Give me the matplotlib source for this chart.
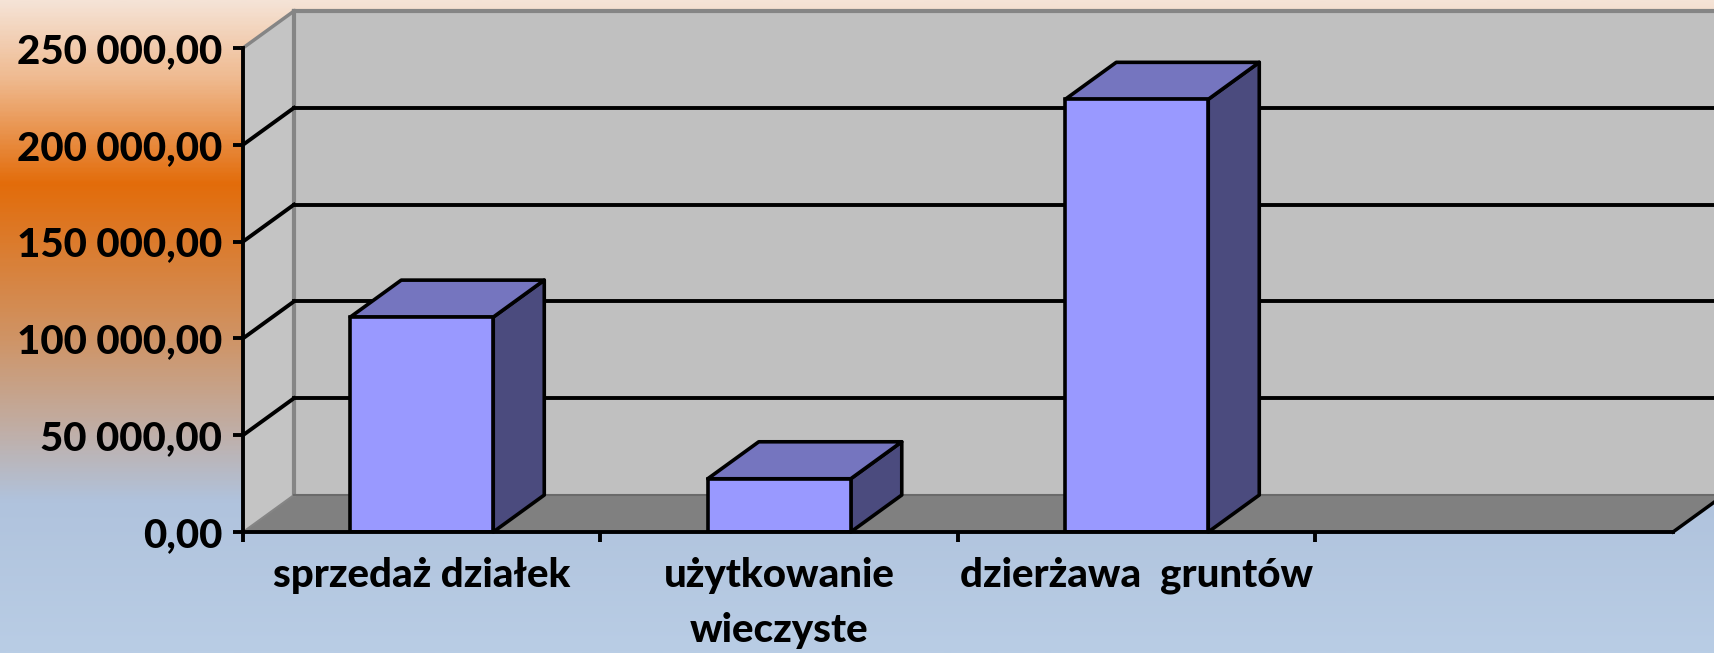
import numpy as np
import matplotlib
matplotlib.use("Agg")
import matplotlib.pyplot as plt
from matplotlib.patches import Polygon
from matplotlib.colors import LinearSegmentedColormap
from matplotlib.ticker import FuncFormatter

plt.rcParams['font.family'] = ['Lato', 'DejaVu Sans']
plt.rcParams['font.weight'] = 'black'

kategorie = ["sprzedaż działek", "użytkowanie\nwieczyste", "dzierżawa  gruntów"]
wartosci = [111000, 27500, 223500]
os_y = [0, 50000, 100000, 150000, 200000, 250000]

def format_pl(v, pos=None):
    s = f"{v:,.2f}"
    return s.replace(",", " ").replace(".", ",")

fig = plt.figure(figsize=(17.15, 6.53), dpi=100)

# tlo z gradientem
tlo = fig.add_axes([0, 0, 1, 1], zorder=-10)
cmap = LinearSegmentedColormap.from_list("tlo", [
    (0.0, "#F5E3D6"), (0.12, "#EFB98E"), (0.28, "#E36C0A"),
    (0.52, "#CF9466"), (0.66, "#C0AEA6"), (0.77, "#B0C3DD"), (1.0, "#B9CDE5")])
grad = np.linspace(0, 1, 400).reshape(-1, 1)
tlo.imshow(grad, aspect="auto", cmap=cmap, extent=[0, 1, 1, 0])
tlo.axis("off")

ax = fig.add_axes([0.14169, 0.18530, 0.83382, 0.74119])
ax.set_facecolor("none")
ax.set_xlim(0, 4)
ax.set_ylim(0, 250000)

n = 4
dx = 0.1427
dy = 19100
ymax = os_y[-1]

# sciany i podloga
ax.add_patch(Polygon([(0, 0), (dx, dy), (dx, ymax + dy), (0, ymax)],
                     closed=True, fc="#C4C4C4", ec="none", zorder=1, clip_on=False))
ax.add_patch(Polygon([(dx, dy), (n + dx, dy), (n + dx, ymax + dy), (dx, ymax + dy)],
                     closed=True, fc="#C0C0C0", ec="none", zorder=1, clip_on=False))
ax.add_patch(Polygon([(0, 0), (n, 0), (n + dx, dy), (dx, dy)],
                     closed=True, fc="#808080", ec="none", zorder=2, clip_on=False))

szary = "#858585"
ax.plot([dx, dx], [dy, ymax + dy], color=szary, lw=3, zorder=2, clip_on=False)
ax.plot([dx, n + dx], [ymax + dy, ymax + dy], color=szary, lw=3, zorder=2, clip_on=False)
ax.plot([0, dx], [ymax, ymax + dy], color=szary, lw=2.5, zorder=2, clip_on=False)
ax.plot([0, dx], [0, dy], color=szary, lw=1.5, zorder=3, clip_on=False)
ax.plot([dx, n + dx], [dy, dy], color="#6A6A6A", lw=1.5, zorder=3, clip_on=False)
ax.plot([n, n + dx], [0, dy], color="black", lw=2.5, zorder=3, clip_on=False)

# linie siatki
for v in os_y[1:-1]:
    ax.plot([dx, n + dx], [v + dy, v + dy], color="black", lw=2.8, zorder=2, clip_on=False)
    ax.plot([0, dx], [v, v + dy], color="black", lw=2.8, zorder=2, clip_on=False)

# slupki 3D
szer = 0.40
for i, v in enumerate(wartosci):
    x0 = i + 0.5 - szer / 2
    x1 = i + 0.5 + szer / 2
    bok = [(x1, 0), (x1 + dx, dy), (x1 + dx, v + dy), (x1, v)]
    gora = [(x0, v), (x1, v), (x1 + dx, v + dy), (x0 + dx, v + dy)]
    ax.add_patch(Polygon(bok, closed=True, fc="#4B4B7E", ec="black", lw=2.6,
                         joinstyle="round", zorder=4, clip_on=False))
    ax.add_patch(Polygon(gora, closed=True, fc="#7575BF", ec="black", lw=2.6,
                         joinstyle="round", zorder=4, clip_on=False))
    ax.bar(i + 0.5, v, width=szer, color="#9999FF", edgecolor="black", linewidth=2.6, zorder=5)

for s in ["top", "right"]:
    ax.spines[s].set_visible(False)
for s in ["left", "bottom"]:
    ax.spines[s].set_linewidth(2.8)
    ax.spines[s].set_zorder(6)

ax.set_yticks(os_y)
ax.yaxis.set_major_formatter(FuncFormatter(format_pl))
ax.tick_params(axis="y", direction="out", length=7, width=2.8, pad=8, labelsize=29)
for t in ax.get_yticklabels():
    t.set_fontweight("black")

ax.set_xticks([0, 1, 2, 3])
ax.set_xticklabels([])
ax.set_xticks([i + 0.5 for i in range(len(kategorie))], minor=True)
ax.set_xticklabels(kategorie, minor=True, fontsize=29, fontweight="black", linespacing=1.6)
ax.tick_params(axis="x", which="major", direction="out", length=7, width=2.8)
ax.tick_params(axis="x", which="minor", length=0, pad=18)

fig.savefig("out.png", dpi=100)
